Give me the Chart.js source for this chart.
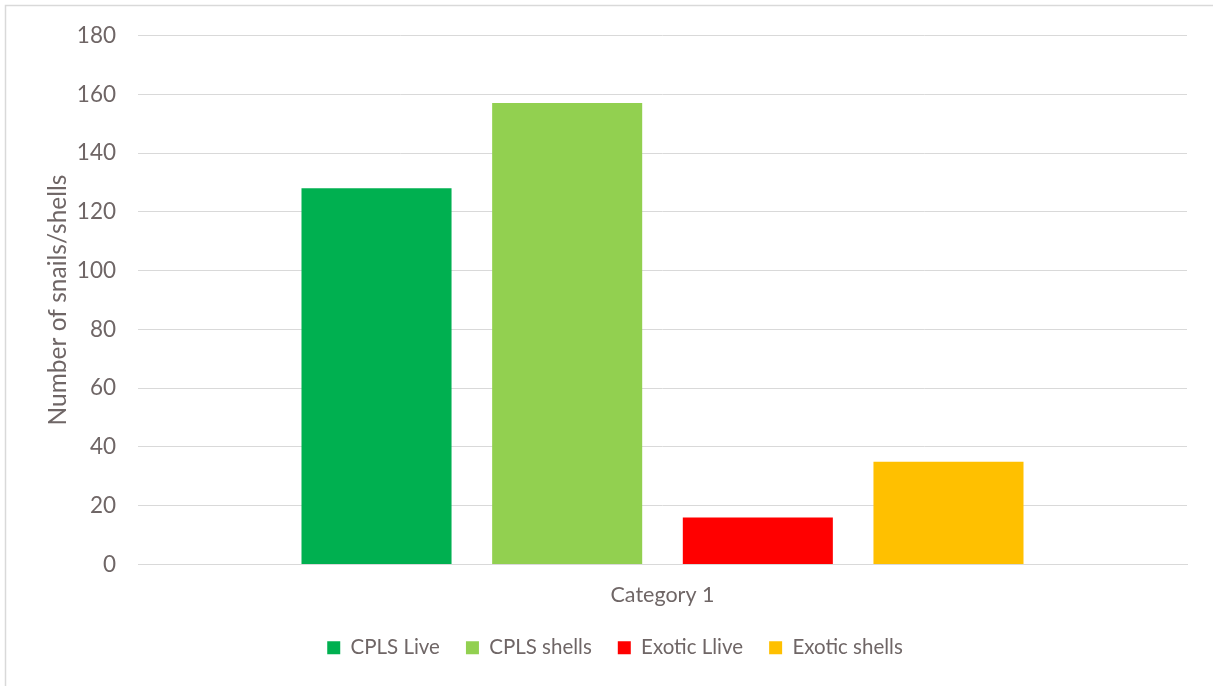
<!DOCTYPE html>
<html>
<head>
<meta charset="utf-8">
<title>Snails and shells</title>
<script src="https://cdn.jsdelivr.net/npm/chart.js@4"></script>
<style>
  html, body { margin: 0; padding: 0; background: #ffffff; }
  #wrap { position: relative; width: 1213px; height: 686px; }
</style>
</head>
<body>
<div id="wrap"><canvas id="grafica" width="1213" height="686"></canvas></div>
<script>
const categorias = ['Category 1'];
const series = ['CPLS Live', 'CPLS shells', 'Exotic Llive', 'Exotic shells'];
const valores = [128, 157, 16, 35];
const colores = ['#00b050', '#92d050', '#ff0000', '#ffc000'];
const yTicks = [0, 20, 40, 60, 80, 100, 120, 140, 160, 180];

const textColor = '#6f6666';
const gridColor = '#d9d9d9';
const fuente = 'Lato, "Open Sans", sans-serif';

// marco gris alrededor del gráfico
const marco = {
  id: 'marco',
  beforeDraw(chart) {
    const c = chart.ctx;
    c.save();
    c.fillStyle = '#ffffff';
    c.fillRect(0, 0, chart.width, chart.height);
    c.strokeStyle = gridColor;
    c.lineWidth = 1.5;
    c.strokeRect(5.5, 5.5, chart.width + 10, chart.height + 10);
    c.restore();
  }
};

new Chart(document.getElementById('grafica'), {
  type: 'bar',
  data: {
    labels: categorias,
    datasets: series.map((nombre, i) => ({
      label: nombre,
      data: [valores[i]],
      backgroundColor: colores[i],
      borderWidth: 0,
      categoryPercentage: 0.727,
      barPercentage: 0.787
    }))
  },
  options: {
    responsive: false,
    animation: false,
    layout: { padding: { left: 43, right: 26, top: 35, bottom: 18 } },
    plugins: {
      tooltip: { enabled: false },
      legend: {
        position: 'bottom',
        labels: {
          color: textColor,
          font: { family: fuente, size: 20.5 },
          boxWidth: 13,
          boxHeight: 13,
          padding: 26
        }
      }
    },
    scales: {
      x: {
        grid: { display: false, drawTicks: false },
        border: { color: gridColor },
        ticks: { color: textColor, font: { family: fuente, size: 21.5 }, padding: 18 },
        afterFit: s => { s.height = 47; }
      },
      y: {
        min: 0,
        max: 180,
        afterBuildTicks: s => { s.ticks = yTicks.map(v => ({ value: v })); },
        grid: { color: gridColor, lineWidth: 1, drawTicks: false },
        border: { display: false },
        ticks: { color: textColor, font: { family: fuente, size: 22.5 }, padding: 22 },
        title: {
          display: true,
          text: 'Number of snails/shells',
          color: textColor,
          font: { family: fuente, size: 24.5 },
          padding: { top: 0, bottom: 0 }
        },
        afterFit: s => { s.width = 95; }
      }
    }
  },
  plugins: [marco]
});
</script>
</body>
</html>
